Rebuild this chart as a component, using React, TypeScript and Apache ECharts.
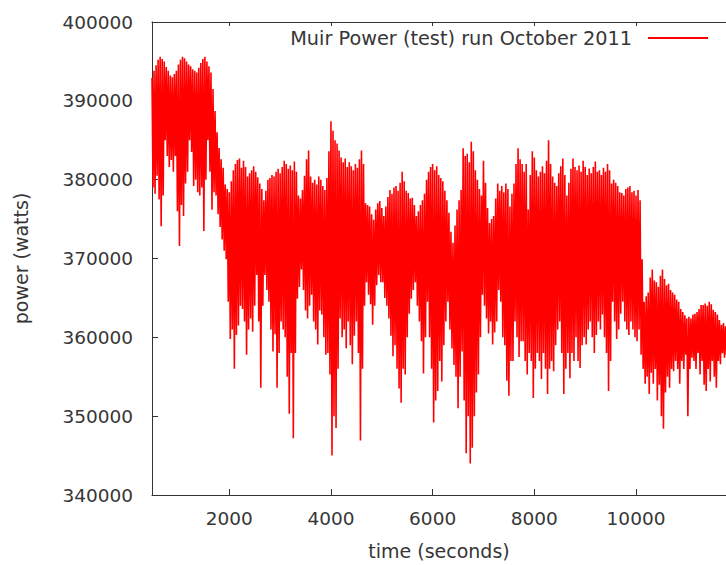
import React, { useEffect, useRef } from "react";
import * as echarts from "echarts";

// Trace readings (kW): one "upper" reading every TIME_STEP seconds starting at TIME_START,
// and one "lower" reading half a step later.
const TIME_START = 480;
const TIME_STEP = 40;

const upperKW = [
  392.9, 393.8, 394.5, 395.2, 395.6, 395.3, 395.0, 394.3, 393.8, 393.2,
  393.0, 393.4, 393.8, 394.6, 395.2, 395.6, 395.4, 395.0, 394.6, 394.4,
  394.0, 393.8, 393.6, 394.2, 394.8, 395.3, 395.6, 395.0, 394.4, 393.6,
  391.5, 388.7, 386.0, 384.0, 382.6, 381.5, 379.4, 378.8, 378.4, 379.8,
  381.2, 382.0, 382.5, 382.7, 381.5, 382.4, 381.6, 380.4, 380.8, 381.2,
  381.7, 381.0, 380.3, 379.5, 378.8, 377.4, 378.6, 380.0, 380.2, 380.6,
  380.4, 381.0, 381.4, 380.8, 381.6, 382.4, 382.0, 381.4, 381.8, 381.2,
  382.3, 381.0, 378.0, 377.6, 378.7, 380.5, 382.6, 383.7, 380.4, 379.6,
  380.0, 379.4, 380.4, 380.0, 379.2, 378.7, 380.2, 383.6, 387.4, 386.2,
  385.0, 384.6, 383.7, 382.8, 382.2, 382.7, 381.6, 382.2, 381.7, 381.2,
  382.0, 381.5, 382.6, 383.7, 382.0, 377.0, 376.8, 376.6, 375.6, 374.9,
  376.2, 377.0, 377.3, 376.4, 375.4, 376.6, 377.8, 378.7, 378.2, 379.0,
  379.2, 378.6, 379.6, 381.0, 379.8, 378.6, 378.3, 377.6, 377.7, 376.8,
  375.4, 376.0, 376.8, 377.4, 378.2, 380.0, 381.0, 381.6, 382.0, 381.2,
  381.7, 380.6, 380.2, 379.8, 378.6, 377.4, 375.8, 373.4, 372.0, 374.2,
  376.2, 377.4, 378.7, 384.0, 383.0, 383.3, 382.2, 384.8, 383.6, 381.2,
  380.0, 378.8, 378.0, 382.4, 379.6, 376.4, 374.5, 375.0, 375.4, 377.6,
  379.5, 378.6, 379.2, 378.4, 379.5, 378.8, 376.6, 378.2, 379.5, 382.0,
  384.0, 382.6, 382.0, 381.0, 382.0, 376.2, 380.6, 383.6, 382.8, 381.2,
  380.4, 381.0, 381.7, 380.8, 382.4, 385.0, 382.0, 380.4, 379.6, 379.2,
  380.8, 381.7, 382.7, 380.6, 378.0, 379.6, 381.4, 382.7, 381.6, 381.2,
  381.8, 381.0, 382.4, 381.6, 380.6, 381.4, 380.8, 381.6, 382.3, 381.0,
  381.2, 380.6, 381.5, 381.0, 382.0, 381.2, 379.5, 380.0, 379.6, 379.2,
  378.4, 378.3, 378.0, 378.8, 379.0, 379.2, 378.4, 378.6, 378.0, 378.7,
  377.4, 369.9, 364.5, 365.2, 365.7, 367.6, 368.6, 367.2, 367.0, 366.4,
  367.8, 368.6, 367.4, 366.6, 366.8, 366.0, 365.7, 365.4, 364.8, 364.5,
  363.6, 363.2, 362.8, 362.4, 362.6, 362.4, 362.9, 363.0, 363.2, 363.6,
  364.1, 364.1, 364.3, 364.0, 364.5, 364.2, 363.5, 363.2, 362.9, 362.2,
  361.6, 361.8, 361.4,
];

const lowerKW = [
  379.0, 378.2, 380.5, 377.5, 374.1, 378.0, 385.0, 383.0, 381.6, 382.5,
  381.0, 383.0, 376.0, 371.6, 376.8, 375.4, 379.5, 381.0, 385.0, 383.5,
  379.2, 380.0, 378.4, 378.0, 379.0, 373.5, 380.0, 385.0, 381.0, 376.2,
  378.4, 378.0, 375.6, 374.0, 372.4, 371.0, 369.9, 364.5, 359.8, 361.0,
  356.0, 360.3, 361.5, 364.0, 363.6, 362.0, 357.8, 361.0, 362.4, 360.7,
  364.0, 367.9, 362.0, 353.6, 364.0, 367.9, 366.0, 364.5, 361.0, 358.2,
  360.4, 353.6, 358.0, 362.0, 361.0, 360.0, 355.0, 350.3, 358.0, 347.2,
  358.0, 364.9, 366.4, 368.6, 366.0, 363.4, 362.4, 364.0, 365.4, 362.0,
  361.0, 359.1, 363.4, 362.9, 360.0, 357.8, 358.0, 355.3, 345.0, 350.0,
  348.5, 356.0, 362.4, 360.0, 361.0, 358.6, 362.0, 359.0, 356.6, 360.2,
  362.0, 358.0, 346.9, 356.0, 364.0, 367.0, 365.4, 364.2, 361.6, 364.0,
  366.6, 367.9, 367.0, 367.0, 365.0, 364.0, 362.4, 360.2, 357.6, 359.0,
  356.0, 353.5, 351.7, 356.0, 355.3, 360.0, 363.0, 364.9, 366.0, 367.0,
  364.0, 362.0, 359.5, 355.4, 360.0, 364.5, 360.0, 356.0, 349.2, 352.0,
  353.2, 357.0, 354.4, 359.0, 362.0, 364.5, 361.0, 358.6, 356.5, 355.0,
  351.0, 355.0, 358.2, 352.0, 345.3, 350.0, 344.0, 346.0, 350.0, 353.0,
  355.3, 360.0, 365.4, 364.0, 362.4, 360.5, 362.0, 359.1, 360.6, 362.0,
  366.0, 364.5, 360.0, 359.0, 354.5, 352.6, 357.0, 357.0, 362.0, 360.0,
  357.5, 359.5, 359.5, 357.0, 355.3, 358.0, 357.0, 352.3, 356.0, 358.0,
  357.0, 354.7, 358.0, 356.0, 352.8, 356.0, 357.0, 355.7, 359.0, 361.0,
  362.0, 358.0, 352.8, 356.0, 358.0, 354.8, 358.0, 357.0, 360.0, 357.0,
  356.1, 359.0, 360.0, 359.1, 361.0, 362.0, 360.0, 358.0, 360.3, 362.0,
  361.0, 362.9, 360.0, 358.0, 353.2, 357.0, 364.5, 362.0, 359.8, 361.0,
  363.0, 364.5, 362.0, 361.0, 360.3, 362.0, 361.0, 360.0, 359.5, 361.0,
  357.8, 356.0, 354.1, 355.0, 352.8, 355.5, 354.1, 356.0, 352.0, 354.0,
  350.0, 348.4, 353.0, 355.0, 353.6, 356.0, 355.7, 357.0, 356.0, 354.1,
  357.0, 356.0, 357.8, 350.0, 356.0, 357.4, 357.0, 356.0, 358.0, 355.3,
  357.0, 354.0, 353.2, 356.0, 354.4, 357.0, 355.0, 353.6, 357.0, 356.6,
  358.0, 357.4, 357.8,
];

const X_MIN = 480;
const X_MAX = 11770;
const Y_MIN = 340000;
const Y_MAX = 400000;
const Y_STEP = 10000;

const LEGEND_TEXT = "Muir Power (test) run October 2011";
const X_NAME = "time (seconds)";
const Y_NAME = "power (watts)";

const FONT = "DejaVu Sans";
const TEXT_COLOR = "#363636";
const AXIS_COLOR = "#333";

function buildData(): [number, number][] {
  const out: [number, number][] = [];
  const n = Math.min(upperKW.length, lowerKW.length);
  for (let i = 0; i < n; i++) {
    const t = TIME_START + TIME_STEP * i;
    out.push([t, upperKW[i] * 1000]);
    out.push([t + TIME_STEP / 2, lowerKW[i] * 1000]);
  }
  return out;
}

export default function App() {
  const ref = useRef<HTMLDivElement>(null);

  useEffect(() => {
    if (!ref.current) return;
    const chart = echarts.init(ref.current, null, { renderer: "svg" });
    const axisLine = { show: true, lineStyle: { color: AXIS_COLOR, width: 1 } };
    chart.setOption({
      animation: false,
      backgroundColor: "#fff",
      grid: { left: 152, top: 22, right: 0, bottom: 65, containLabel: false },
      xAxis: [
        {
          type: "value",
          min: X_MIN,
          max: X_MAX,
          splitNumber: 5,
          position: "bottom",
          name: X_NAME,
          nameLocation: "middle",
          nameGap: 46,
          nameTextStyle: { fontFamily: FONT, fontSize: 19, color: TEXT_COLOR },
          axisLine,
          axisTick: { show: true, inside: true, length: 6, lineStyle: { color: AXIS_COLOR } },
          axisLabel: {
            show: true,
            margin: 14,
            showMinLabel: false,
            showMaxLabel: false,
            fontFamily: FONT,
            fontSize: 18.5,
            color: TEXT_COLOR,
            formatter: (v: number) => String(v),
          },
          splitLine: { show: false },
        },
        {
          type: "value",
          min: X_MIN,
          max: X_MAX,
          splitNumber: 5,
          position: "top",
          axisLine,
          axisTick: { show: true, inside: true, length: 4, lineStyle: { color: AXIS_COLOR } },
          axisLabel: { show: false },
          splitLine: { show: false },
        },
      ],
      yAxis: {
        type: "value",
        min: Y_MIN,
        max: Y_MAX,
        interval: Y_STEP,
        name: Y_NAME,
        nameLocation: "middle",
        nameRotate: 90,
        nameGap: 122,
        nameTextStyle: { fontFamily: FONT, fontSize: 19, color: TEXT_COLOR },
        axisLine,
        axisTick: { show: true, inside: true, length: 6, lineStyle: { color: AXIS_COLOR } },
        axisLabel: {
          margin: 19,
          fontFamily: FONT,
          fontSize: 18.5,
          color: TEXT_COLOR,
          formatter: (v: number) => String(v),
        },
        splitLine: { show: false },
      },
      graphic: [
        {
          type: "text",
          x: 632,
          y: 38,
          style: {
            text: LEGEND_TEXT,
            fontFamily: FONT,
            fontSize: 19.3,
            fill: TEXT_COLOR,
            textAlign: "right",
            textVerticalAlign: "middle",
          },
        },
        {
          type: "line",
          shape: { x1: 648, y1: 38, x2: 708, y2: 38 },
          style: { stroke: "#ff0000", lineWidth: 2 },
        },
      ],
      series: [
        {
          type: "line",
          data: buildData(),
          showSymbol: false,
          symbol: "none",
          lineStyle: { color: "#ff0000", width: 1.6 },
          itemStyle: { color: "#ff0000" },
          clip: true,
          silent: true,
        },
      ],
    });
    return () => chart.dispose();
  }, []);

  return (
    <div
      ref={ref}
      style={{ position: "absolute", left: 0, top: 0, width: 726, height: 565 }}
    />
  );
}
